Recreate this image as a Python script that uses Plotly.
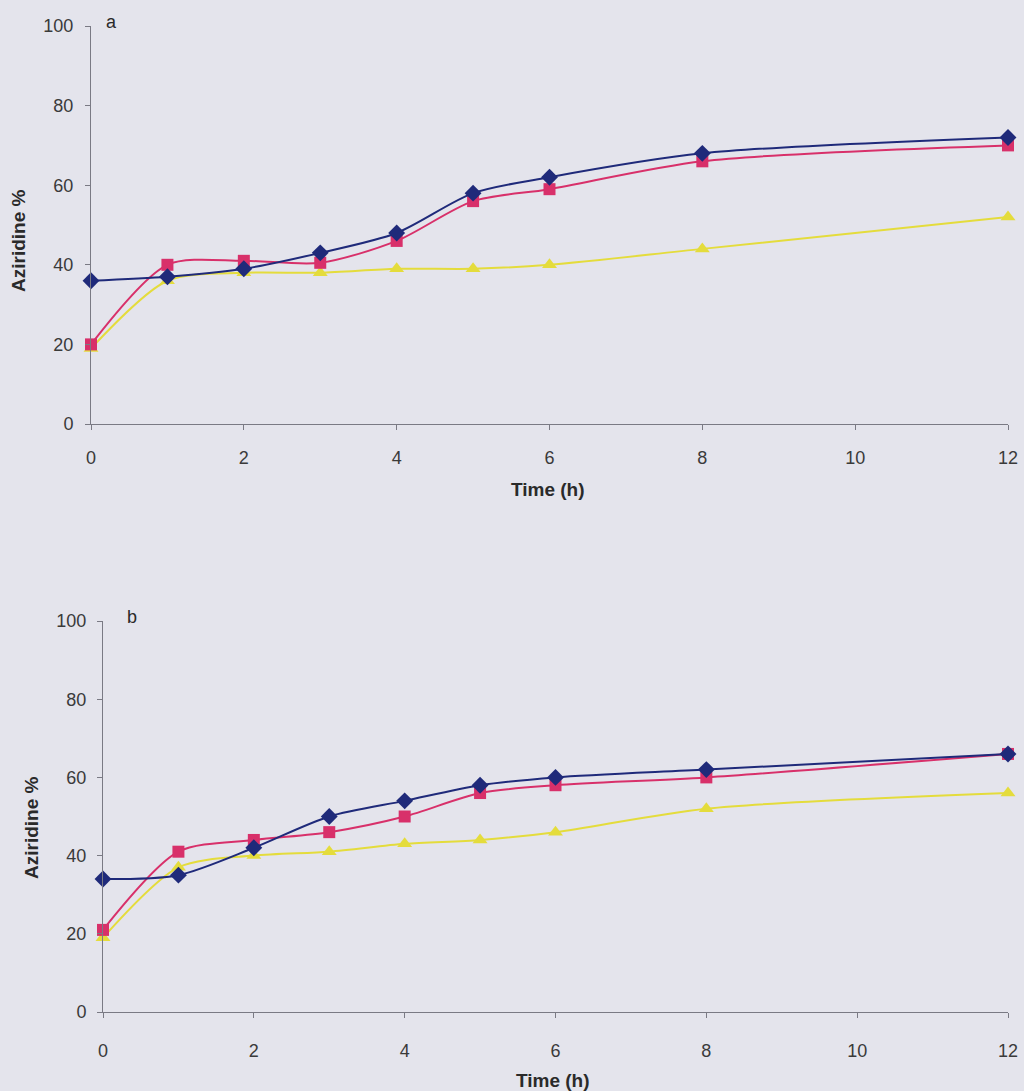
import plotly.graph_objects as go

time_h = [0, 1, 2, 3, 4, 5, 6, 8, 12]

a_blue = [36, 37, 39, 43, 48, 58, 62, 68, 72]
a_red = [20, 40, 41, 40.5, 46, 56, 59, 66, 70]
a_yellow = [19, 36, 38, 38, 39, 39, 40, 44, 52]

b_blue = [34, 35, 42, 50, 54, 58, 60, 62, 66]
b_red = [21, 41, 44, 46, 50, 56, 58, 60, 66]
b_yellow = [19, 37, 40, 41, 43, 44, 46, 52, 56]

x_ticks = [0, 2, 4, 6, 8, 10, 12]
y_ticks = [0, 20, 40, 60, 80, 100]

BLUE = "#1f2a7a"
RED = "#d8306a"
YELLOW = "#e4dc3c"
BG = "#e4e4ec"

fig = go.Figure()

def add_series(xa, ya, vals, color, symbol, size):
    fig.add_trace(go.Scatter(
        x=time_h, y=vals, xaxis=xa, yaxis=ya, mode="lines+markers",
        line=dict(color=color, width=2, shape="spline", smoothing=0.8),
        marker=dict(color=color, symbol=symbol, size=size),
        showlegend=False, cliponaxis=False))

add_series("x", "y", a_yellow, YELLOW, "triangle-up", 13)
add_series("x", "y", a_red, RED, "square", 12)
add_series("x", "y", a_blue, BLUE, "diamond", 13)
add_series("x2", "y2", b_yellow, YELLOW, "triangle-up", 13)
add_series("x2", "y2", b_red, RED, "square", 12)
add_series("x2", "y2", b_blue, BLUE, "diamond", 13)

axis_common = dict(showgrid=False, zeroline=False, showline=True, linecolor="#7a7a84",
                   linewidth=1, ticks="outside", ticklen=5, tickcolor="#7a7a84",
                   automargin=False,
                   tickfont=dict(family="Liberation Sans, Arial", size=18, color="#3a3a3a"))

H = 1091.0
W = 1024.0
fig.update_layout(
    width=1024, height=1091, margin=dict(l=0, r=0, t=0, b=0, pad=0),
    paper_bgcolor=BG, plot_bgcolor=BG,
    xaxis=dict(domain=[91 / W, 1008 / W], range=[0, 12], tickvals=x_ticks, anchor="y",
               ticklabelstandoff=12, **axis_common),
    yaxis=dict(domain=[1 - 424 / H, 1 - 26 / H], range=[0, 100], tickvals=y_ticks, anchor="x",
               ticklabelstandoff=8, **axis_common),
    xaxis2=dict(domain=[103 / W, 1008 / W], range=[0, 12], tickvals=x_ticks, anchor="y2",
                ticklabelstandoff=17, **axis_common),
    yaxis2=dict(domain=[1 - 1012 / H, 1 - 621 / H], range=[0, 100], tickvals=y_ticks, anchor="x2",
                ticklabelstandoff=7, **axis_common),
)

font_title = dict(family="Liberation Sans, Arial", size=19, color="#2a2a2a")
font_tag = dict(family="Liberation Sans, Arial", size=18, color="#2a2a2a")
ann = [
    dict(text="<b>Time (h)</b>", x=548 / W, y=1 - 490 / H, font=font_title),
    dict(text="<b>Time (h)</b>", x=553 / W, y=1 - 1080 / H, font=font_title),
    dict(text="<b>Aziridine %</b>", x=18 / W, y=1 - 241 / H, textangle=-90, font=font_title),
    dict(text="<b>Aziridine %</b>", x=31 / W, y=1 - 828 / H, textangle=-90, font=font_title),
    dict(text="a", x=111 / W, y=1 - 22 / H, font=font_tag),
    dict(text="b", x=132 / W, y=1 - 617 / H, font=font_tag),
]
for a in ann:
    fig.add_annotation(xref="paper", yref="paper", showarrow=False,
                       xanchor="center", yanchor="middle", **a)

fig.write_html(
    "out.html",
    config={"responsive": False, "displayModeBar": False},
    post_script="document.body.style.margin='0';document.body.style.overflow='hidden';",
)
